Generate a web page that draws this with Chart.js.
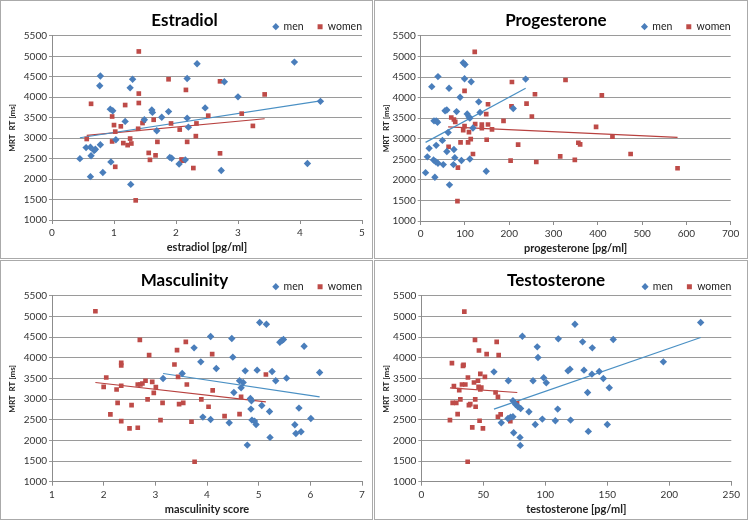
<!DOCTYPE html>
<html>
<head>
<meta charset="utf-8">
<script src="https://cdn.jsdelivr.net/npm/chart.js@4.4.1/dist/chart.umd.min.js"></script>
<style>
  body { margin: 0; background: #fff; width: 748px; height: 520px; position: relative; overflow: hidden; }
  canvas { position: absolute; }
  .frame { position: absolute; border: 1px solid #aaa; box-sizing: border-box; pointer-events: none; }
</style>
</head>
<body>
<canvas id="estradiol" width="372" height="258" style="left:0;top:0"></canvas>
<canvas id="progesterone" width="373" height="258" style="left:374px;top:0"></canvas>
<canvas id="masculinity" width="372" height="259" style="left:0;top:260px"></canvas>
<canvas id="testosterone" width="373" height="259" style="left:374px;top:260px"></canvas>
<div class="frame" style="left:0;top:0;width:373px;height:259px"></div>
<div class="frame" style="left:374px;top:0;width:374px;height:259px"></div>
<div class="frame" style="left:0;top:260px;width:373px;height:260px"></div>
<div class="frame" style="left:374px;top:260px;width:374px;height:260px"></div>
<script>
// ---- estradiol
const estradiolMenX = [0.45,0.55,0.62,0.63,0.68,0.70,0.62,0.78,0.77,0.78,0.82,0.94,0.98,0.95,1.03,1.18,1.26,1.30,1.27,1.49,1.61,1.62,1.69,1.77,1.88,1.90,1.93,2.05,2.15,2.18,2.18,2.20,2.34,2.47,2.73,2.78,3.00,3.91,4.12,4.33];
const estradiolMenY = [2500,2770,2780,2570,2700,2730,2060,2840,4280,4520,2160,3710,3670,2420,2960,3410,4230,4440,1870,3450,3690,3630,3180,3510,3650,2530,2510,2370,2470,4460,3490,3270,4820,3740,2210,4380,4010,4860,2380,3900];
const estradiolWomenX = [0.56,0.63,0.97,1.00,1.02,0.97,1.02,1.11,1.18,1.15,1.22,1.26,1.28,1.40,1.40,1.40,1.39,1.35,1.46,1.48,1.64,1.56,1.58,1.67,1.70,1.88,1.92,2.06,2.09,2.11,2.16,2.18,2.32,2.33,2.28,2.52,2.71,2.71,3.06,3.24,3.43];
const estradiolWomenY = [2980,3840,3530,3320,3160,2920,2300,3290,3810,2880,2830,2990,2870,5120,4090,3860,3230,1480,3370,3430,3450,2640,2470,2580,2910,4440,3360,3210,2480,2450,4180,2910,3050,3360,2270,3550,4390,2630,3600,3300,4070];
const estradiolMenTrendX = [0.45, 4.33], estradiolMenTrendY = [3010, 3910];
const estradiolWomenTrendX = [0.56, 3.43], estradiolWomenTrendY = [3070, 3475];

// ---- progesterone
const progesteroneMenX = [11,15,19,25,30,35,38,39,29,34,39,32,35,49,51,55,59,62,59,64,65,75,74,77,81,89,92,96,100,99,105,109,111,114,111,118,131,134,148,209,237];
const progesteroneMenY = [2175,2560,2766,4266,3435,3435,3400,4510,2484,2440,2405,2065,2839,2960,2371,3680,3697,3150,2690,4226,1879,2740,2371,2540,3660,4008,2470,4847,4806,4460,3600,3532,3500,4387,2508,3260,3897,3640,2210,3734,4450];
const progesteroneWomenX = [122,99,69,75,78,99,96,123,138,152,152,138,161,148,109,113,107,90,118,63,149,84,83,187,206,205,203,220,239,327,258,251,261,315,348,356,360,396,409,433,474,580];
const progesteroneWomenY = [5113,4165,3516,3468,3411,3306,3210,3355,3347,3347,3839,3258,3226,3597,3161,2992,2911,2911,2629,2806,2976,2298,1484,3435,4379,3790,2468,2855,3855,4427,4081,3540,2435,2573,2484,2903,2863,3290,4056,3048,2629,2282];
const progesteroneMenTrendX = [11, 237], progesteroneMenTrendY = [2911, 4226];
const progesteroneWomenTrendX = [62, 580], progesteroneWomenTrendY = [3290, 3032];

// ---- masculinity
const masculinityMenX = [3.15,3.52,3.75,3.88,3.92,4.07,4.07,4.18,4.43,4.48,4.50,4.52,4.63,4.70,4.66,4.74,4.78,4.84,4.86,4.85,4.87,4.92,4.95,4.97,5.02,5.15,5.06,5.21,5.22,5.26,5.33,5.41,5.45,5.48,5.54,5.70,5.72,5.82,5.78,5.88,6.01,6.18];
const masculinityMenY = [3500,3621,4242,3903,2565,4515,2508,3742,2427,4468,4016,3161,3444,3403,3274,3685,1887,3016,2960,2758,2492,2468,2387,3702,4855,4815,2847,2702,2073,3669,3444,4379,4419,4444,3508,2379,2169,2210,2782,4282,2532,3645];
const masculinityWomenX = [1.84,2.00,2.05,2.13,2.25,2.27,2.34,2.34,2.34,2.34,2.50,2.54,2.66,2.70,2.66,2.71,2.75,2.81,2.88,2.85,2.94,2.97,3.01,3.10,3.14,3.37,3.42,3.44,3.59,3.61,3.46,3.54,3.70,3.76,3.89,4.03,4.10,4.11,4.34,4.63,4.66,5.14];
const masculinityWomenY = [5129,3298,3524,2629,3234,2911,3879,3815,3323,2468,2290,2855,2306,4435,3355,3355,3379,3444,4065,2992,3419,3153,3290,2492,2911,3839,4185,3540,4387,3355,2879,2911,2452,1484,2992,2815,4089,3210,2589,2637,3056,3597];
const masculinityMenTrendX = [3.15, 6.18], masculinityMenTrendY = [3621, 3056];
const masculinityWomenTrendX = [1.84, 5.14], masculinityWomenTrendY = [3403, 2935];

// ---- testosterone
const testosteroneMenX = [58.6,70.2,81.5,73.9,76.1,78.0,80.1,69.9,72.0,73.9,64.5,74.5,79.6,79.8,86.8,90.1,93.5,94.1,91.9,97.6,98.7,100.8,108.1,110.0,110.5,120.4,118.3,119.9,123.9,130.1,131.2,134.1,134.7,137.9,137.6,143.5,146.8,150.0,151.6,154.8,195.2,225.3];
const testosteroneMenY = [3661,3444,4524,2960,2871,2815,2774,2532,2565,2573,2427,2185,2073,1879,2694,3444,4266,4008,2387,2516,3516,3395,2476,2758,4460,2492,3685,3726,4815,4387,3702,3161,2218,4242,3605,3669,3500,2387,3274,4444,3903,4855];
const testosteroneWomenX = [34.7,43.3,60.8,46.5,52.7,62.4,24.7,33.6,34.1,37.6,47.6,51.3,26.3,32.8,35.5,42.5,45.7,46.2,48.4,47.6,30.6,31.5,25.3,28.2,43.5,38.4,39.5,43.8,29.3,23.1,47.0,41.1,49.7,37.4,59.9,61.8,61.8,64.0,71.8,77.2];
const testosteroneWomenY = [5121,4435,4387,4177,4089,4065,3871,3806,3831,3524,3613,3540,3315,3355,3355,3403,3444,3298,3282,3234,3218,2992,2911,2911,2992,2855,2879,2815,2637,2492,2476,2315,2290,1484,3161,3056,2573,2629,2468,2895];
const testosteroneMenTrendX = [58.6, 225.3], testosteroneMenTrendY = [2758, 4492];
const testosteroneWomenTrendX = [23.1, 77.4], testosteroneWomenTrendY = [3274, 3161];

const yMin = 1000, yMax = 5500, yStep = 500;

const FONT = "Lato, 'Open Sans', sans-serif";
const menColor = '#4a7ebb', womenColor = '#be4b48';
const menLine = '#4a90c4', womenLine = '#b8413f';
const LEGEND_PAD = 14;

function pts(xs, ys) { return xs.map((x, i) => ({x: x, y: ys[i]})); }

// legend sits on the title line in the original, so nudge it after layout
const liftLegend = {
  id: 'liftLegend',
  afterLayout(chart) {
    const lg = chart.legend;
    lg.top += 6; lg.bottom += 6;
    lg.left += LEGEND_PAD; lg.right += LEGEND_PAD;
  }
};

function makePanel(id, title, xTitle, xMin, xMax, xStep, d, box) {
  const canvas = document.getElementById(id);
  const W = canvas.width, H = canvas.height;
  new Chart(canvas, {
    type: 'scatter',
    data: {
      datasets: [
        { label: 'men', data: pts(d.menX, d.menY), pointStyle: 'rectRot', pointRadius: 3.7,
          backgroundColor: menColor, borderColor: menColor, borderWidth: 0 },
        { label: 'women', data: pts(d.womenX, d.womenY), pointStyle: 'rect', pointRadius: 3.3,
          backgroundColor: womenColor, borderColor: womenColor, borderWidth: 0 },
        { label: '', data: pts(d.menTX, d.menTY), showLine: true, borderColor: menLine,
          borderWidth: 1.2, pointRadius: 0 },
        { label: '', data: pts(d.womenTX, d.womenTY), showLine: true, borderColor: womenLine,
          borderWidth: 1.2, pointRadius: 0 }
      ]
    },
    options: {
      responsive: false,
      animation: false,
      events: [],
      layout: { padding: { left: 7, right: W - box.R, top: 0, bottom: H - box.B - 34 } },
      plugins: {
        title: {
          display: true, text: title, color: '#000',
          font: { family: FONT, size: 17, weight: 'bold' },
          padding: { top: 10, bottom: -29 }
        },
        legend: {
          display: true, position: 'top', align: 'end',
          labels: {
            usePointStyle: true, boxWidth: 5, boxHeight: 5, padding: LEGEND_PAD,
            color: '#222', font: { family: FONT, size: 10.5 },
            filter: item => item.text !== ''
          }
        },
        tooltip: { enabled: false }
      },
      scales: {
        x: {
          type: 'linear', min: xMin, max: xMax,
          ticks: { stepSize: xStep, color: '#333', padding: 3, font: { family: FONT, size: 10 },
                   callback: v => String(v) },
          grid: { drawOnChartArea: false, drawTicks: true, tickLength: 4, color: '#8c8c8c' },
          border: { color: '#8c8c8c' },
          title: { display: true, text: xTitle, color: '#222', padding: { top: 0, bottom: 0 },
                   font: { family: FONT, size: 11, weight: 'bold' } },
          afterFit: s => { s.height = 34; }
        },
        y: {
          type: 'linear', min: yMin, max: yMax,
          ticks: { stepSize: yStep, color: '#333', padding: 2, font: { family: FONT, size: 10 },
                   callback: v => String(v) },
          grid: { color: '#9a9a9a', tickLength: 3 },
          border: { color: '#8c8c8c' },
          title: { display: true, text: 'MRT  RT [ms]', color: '#222', padding: { top: 1, bottom: 0 },
                   font: { family: FONT, size: 8, weight: 'bold' } },
          afterFit: s => { s.width = box.L - 7; }
        }
      }
    },
    plugins: [liftLegend]
  });
}

makePanel('estradiol', 'Estradiol', 'estradiol [pg/ml]', 0, 5, 1, {
  menX: estradiolMenX, menY: estradiolMenY, womenX: estradiolWomenX, womenY: estradiolWomenY,
  menTX: estradiolMenTrendX, menTY: estradiolMenTrendY, womenTX: estradiolWomenTrendX, womenTY: estradiolWomenTrendY
}, { L: 52, R: 362, B: 220 });

makePanel('progesterone', 'Progesterone', 'progesterone [pg/ml]', 0, 700, 100, {
  menX: progesteroneMenX, menY: progesteroneMenY, womenX: progesteroneWomenX, womenY: progesteroneWomenY,
  menTX: progesteroneMenTrendX, menTY: progesteroneMenTrendY, womenTX: progesteroneWomenTrendX, womenTY: progesteroneWomenTrendY
}, { L: 46.7, R: 356.7, B: 221 });

makePanel('masculinity', 'Masculinity', 'masculinity score', 1, 7, 1, {
  menX: masculinityMenX, menY: masculinityMenY, womenX: masculinityWomenX, womenY: masculinityWomenY,
  menTX: masculinityMenTrendX, menTY: masculinityMenTrendY, womenTX: masculinityWomenTrendX, womenTY: masculinityWomenTrendY
}, { L: 52, R: 362, B: 221.7 });

makePanel('testosterone', 'Testosterone', 'testosterone [pg/ml]', 0, 250, 50, {
  menX: testosteroneMenX, menY: testosteroneMenY, womenX: testosteroneWomenX, womenY: testosteroneWomenY,
  menTX: testosteroneMenTrendX, menTY: testosteroneMenTrendY, womenTX: testosteroneWomenTrendX, womenTY: testosteroneWomenTrendY
}, { L: 47.3, R: 357.3, B: 221.7 });
</script>
</body>
</html>
